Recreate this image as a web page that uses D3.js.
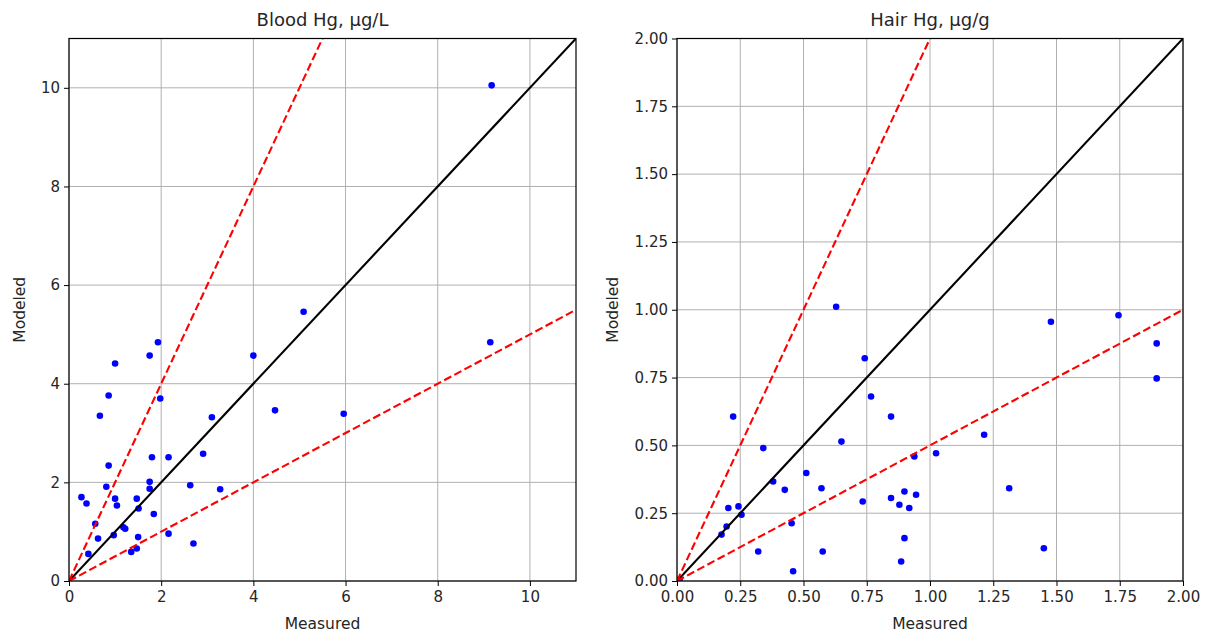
<!DOCTYPE html>
<html>
<head>
<meta charset="utf-8">
<script src="https://cdn.jsdelivr.net/npm/d3@7"></script>
<style>
  body { margin: 0; background: #fff; }
  text { font-family: "DejaVu Sans", sans-serif; fill: #262626; }
</style>
</head>
<body>
<svg id="chart" width="1208" height="634"></svg>
<script>
// blood Hg, ug/L : measured vs modeled
const bloodMeasured = [1.93, 1.75, 1.00, 4.00, 0.86, 1.98, 0.67, 3.10, 4.47, 5.96,
  0.86, 1.80, 2.16, 2.91, 0.81, 1.75, 1.75, 2.63, 3.28, 0.27,
  0.38, 1.00, 1.04, 1.47, 1.51, 1.84, 0.57, 1.18, 1.22, 0.63,
  0.97, 1.50, 2.16, 0.42, 1.35, 1.47, 2.70, 9.17, 5.09, 9.14]
const bloodModeled = [4.84, 4.57, 4.41, 4.57, 3.76, 3.70, 3.35, 3.32, 3.46, 3.39,
  2.34, 2.51, 2.51, 2.58, 1.91, 2.01, 1.87, 1.94, 1.86, 1.70,
  1.57, 1.67, 1.53, 1.67, 1.47, 1.36, 1.16, 1.09, 1.06, 0.86,
  0.93, 0.89, 0.96, 0.55, 0.59, 0.66, 0.76, 10.05, 5.46, 4.84]

// hair Hg, ug/g
const hairMeasured = [0.629, 0.742, 0.767, 0.846, 0.222, 0.650, 0.341, 0.938, 1.024, 0.511,
  0.380, 0.426, 0.571, 0.734, 0.846, 0.899, 0.945, 0.879, 0.918, 0.203,
  0.243, 0.255, 0.196, 0.176, 0.453, 0.321, 0.576, 0.899, 0.886, 0.459,
  0.010, 1.478, 1.745, 1.896, 1.896, 1.214, 1.313, 1.450]
const hairModeled = [1.011, 0.821, 0.680, 0.606, 0.606, 0.514, 0.490, 0.459, 0.471, 0.398,
  0.367, 0.336, 0.342, 0.293, 0.306, 0.330, 0.318, 0.281, 0.269, 0.269,
  0.275, 0.244, 0.201, 0.171, 0.213, 0.109, 0.109, 0.158, 0.072, 0.036,
  0.006, 0.956, 0.980, 0.876, 0.747, 0.539, 0.342, 0.121]

const bloodTicks = [0, 2, 4, 6, 8, 10]
const hairTicks = [0, 0.25, 0.5, 0.75, 1.0, 1.25, 1.5, 1.75, 2.0]

// reference lines: 1:1 and factor-of-2 bounds
const refLines = [
  { slope: 1, color: "#000", dash: null },
  { slope: 2, color: "#ff0000", dash: "8,3.5" },
  { slope: 0.5, color: "#ff0000", dash: "8,3.5" }
]

const panels = [
  { title: "Blood Hg, µg/L", xs: bloodMeasured, ys: bloodModeled, max: 11, ticks: bloodTicks, fmt: d3.format("d"),
    left: 69, right: 576 },
  { title: "Hair Hg, µg/g", xs: hairMeasured, ys: hairModeled, max: 2, ticks: hairTicks, fmt: d3.format(".2f"),
    left: 677, right: 1183 }
]

const plotTop = 38.5, plotBottom = 581
const svg = d3.select("#chart")

panels.forEach((p, pi) => {
  const x = d3.scaleLinear().domain([0, p.max]).range([p.left, p.right])
  const y = d3.scaleLinear().domain([0, p.max]).range([plotBottom, plotTop])
  const g = svg.append("g")

  const clipId = `clip${pi}`
  g.append("clipPath").attr("id", clipId)
    .append("rect")
    .attr("x", p.left).attr("y", plotTop)
    .attr("width", p.right - p.left).attr("height", plotBottom - plotTop)

  // grid
  g.append("g").selectAll("line").data(p.ticks).join("line")
    .attr("x1", d => x(d)).attr("x2", d => x(d))
    .attr("y1", plotTop).attr("y2", plotBottom)
    .attr("stroke", "#b0b0b0").attr("stroke-width", 1)
  g.append("g").selectAll("line").data(p.ticks).join("line")
    .attr("y1", d => y(d)).attr("y2", d => y(d))
    .attr("x1", p.left).attr("x2", p.right)
    .attr("stroke", "#b0b0b0").attr("stroke-width", 1)

  // points (under the lines, like matplotlib's default zorder)
  const pts = p.xs.map((v, i) => ({ mx: v, my: p.ys[i] }))
  g.append("g").attr("clip-path", `url(#${clipId})`)
    .selectAll("circle").data(pts).join("circle")
    .attr("cx", d => x(d.mx)).attr("cy", d => y(d.my))
    .attr("r", 3.3).attr("fill", "#0000ff")

  // 1:1 and 2x lines
  g.append("g").attr("clip-path", `url(#${clipId})`)
    .selectAll("line").data(refLines).join("line")
    .attr("x1", x(0)).attr("y1", y(0))
    .attr("x2", d => x(p.max)).attr("y2", d => y(p.max * d.slope))
    .attr("stroke", d => d.color).attr("stroke-width", 2.1)
    .attr("stroke-dasharray", d => d.dash)

  // axes
  const xAxis = d3.axisBottom(x).tickValues(p.ticks).tickFormat(p.fmt).tickSize(5).tickPadding(5)
  const yAxis = d3.axisLeft(y).tickValues(p.ticks).tickFormat(p.fmt).tickSize(5).tickPadding(4)
  const gx = g.append("g").attr("transform", `translate(0,${plotBottom})`).call(xAxis)
  const gy = g.append("g").attr("transform", `translate(${p.left},0)`).call(yAxis)
  ;[gx, gy].forEach(a => {
    a.select(".domain").remove()
    a.selectAll(".tick line").attr("stroke", "#000").attr("stroke-width", 1)
    a.selectAll("text").style("font-family", "DejaVu Sans, sans-serif")
      .style("font-size", "15px").attr("fill", "#262626")
  })

  // frame
  g.append("rect")
    .attr("x", p.left).attr("y", plotTop)
    .attr("width", p.right - p.left).attr("height", plotBottom - plotTop)
    .attr("fill", "none").attr("stroke", "#000").attr("stroke-width", 1.2)

  g.append("text")
    .attr("x", (p.left + p.right) / 2).attr("y", 26)
    .attr("text-anchor", "middle").style("font-size", "18px")
    .text(p.title)
  g.append("text")
    .attr("x", (p.left + p.right) / 2).attr("y", 629)
    .attr("text-anchor", "middle").style("font-size", "15.5px")
    .text("Measured")
  g.append("text")
    .attr("transform", `translate(${pi === 0 ? 25 : 618},${(plotTop + plotBottom) / 2}) rotate(-90)`)
    .attr("text-anchor", "middle").style("font-size", "15.5px")
    .text("Modeled")
})
</script>
</body>
</html>
